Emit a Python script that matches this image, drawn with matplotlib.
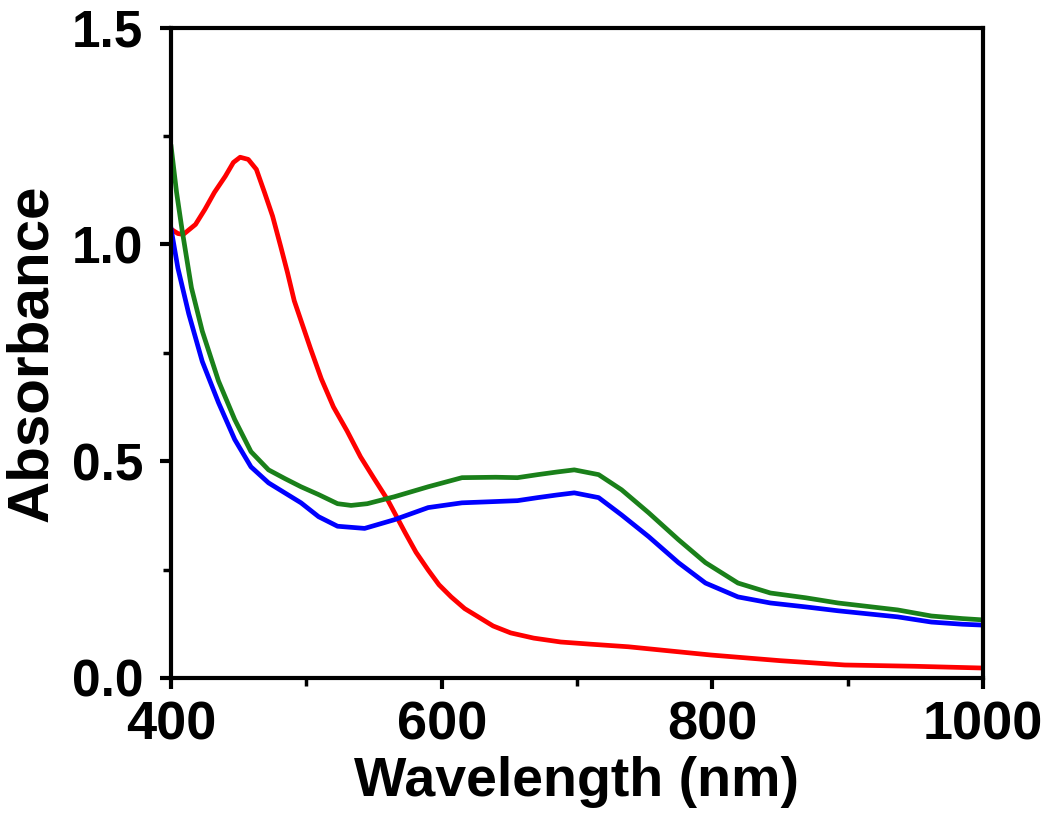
import matplotlib.pyplot as plt
from matplotlib import font_manager
import numpy as np

# absorbance spectra
red_wl = [400, 405, 409, 418, 425, 432, 440, 446, 451, 457, 463, 469, 475, 481, 486, 491,
          497, 503, 511, 520, 530, 540, 550, 560, 573, 581, 590, 598, 607, 617, 627, 638,
          651, 668, 688, 710, 738, 770, 799, 850, 898, 950, 1000]
red_abs = [1.035, 1.025, 1.023, 1.046, 1.081, 1.12, 1.157, 1.189, 1.201, 1.196, 1.173, 1.12,
           1.065, 0.995, 0.935, 0.87, 0.815, 0.76, 0.69, 0.625, 0.57, 0.51, 0.46, 0.411,
           0.335, 0.29, 0.249, 0.215, 0.187, 0.16, 0.141, 0.12, 0.104, 0.092, 0.083, 0.078,
           0.072, 0.062, 0.053, 0.040, 0.030, 0.027, 0.023]

green_wl = [400, 404, 408, 415, 423, 435, 447, 459, 472, 484, 496, 509, 523, 533, 545, 565,
            590, 615, 640, 656, 671, 685, 698, 716, 733, 753, 775, 795, 819, 843, 869, 893,
            915, 937, 962, 985, 1000]
green_abs = [1.225, 1.12, 1.035, 0.90, 0.80, 0.685, 0.596, 0.522, 0.48, 0.46, 0.441, 0.423,
             0.402, 0.398, 0.402, 0.418, 0.441, 0.462, 0.463, 0.462, 0.469, 0.475, 0.480,
             0.469, 0.434, 0.381, 0.319, 0.266, 0.219, 0.196, 0.185, 0.173, 0.165, 0.157,
             0.143, 0.137, 0.134]

blue_wl = [400, 405, 413, 423, 435, 447, 459, 472, 484, 496, 509, 523, 543, 565, 590, 615,
           640, 656, 671, 685, 698, 716, 733, 753, 775, 795, 819, 843, 869, 893, 915, 937,
           962, 985, 1000]
blue_abs = [1.035, 0.945, 0.84, 0.73, 0.635, 0.55, 0.487, 0.45, 0.427, 0.404, 0.372, 0.350,
            0.345, 0.365, 0.393, 0.404, 0.407, 0.409, 0.416, 0.422, 0.427, 0.416, 0.376,
            0.326, 0.266, 0.219, 0.187, 0.173, 0.164, 0.155, 0.148, 0.141, 0.129, 0.124,
            0.122]

x_ticks = [400, 600, 800, 1000]
y_ticks = [0.0, 0.5, 1.0, 1.5]

plt.rcParams['font.family'] = ['Liberation Sans', 'DejaVu Sans']
plt.rcParams['font.weight'] = 'bold'

# the x-axis text in the reference is condensed; use the narrow face if present
if 'Liberation Sans Narrow' in font_manager.get_font_names():
    x_family = ['Liberation Sans Narrow', 'Liberation Sans']
    x_tick_size, x_label_size = 46, 48
else:
    x_family = ['Liberation Sans', 'DejaVu Sans']
    x_tick_size, x_label_size = 39, 40

fig = plt.figure(figsize=(10.5, 8.36), dpi=100)
ax = fig.add_axes([0.163, 0.189, 0.773, 0.778])

ax.plot(red_wl, red_abs, color="#ff0000", linewidth=3.4)
ax.plot(blue_wl, blue_abs, color="#0000ff", linewidth=3.4)
ax.plot(green_wl, green_abs, color="#1a801a", linewidth=3.4)

ax.set_xlim(400, 1000)
ax.set_ylim(0, 1.5)
ax.set_xticks(x_ticks)
ax.set_xticklabels([str(t) for t in x_ticks], family=x_family, fontsize=x_tick_size,
                   fontweight="bold")
ax.set_yticks(y_ticks)
ax.set_yticklabels(["%.1f" % t for t in y_ticks], fontsize=37, fontweight="bold")
ax.set_xticks([500, 700, 900], minor=True)
ax.set_yticks([0.25, 0.75, 1.25], minor=True)

for s in ax.spines.values():
    s.set_linewidth(3)
ax.tick_params(which="major", direction="out", length=8, width=3)
ax.tick_params(which="minor", direction="out", length=6, width=2.5)
ax.tick_params(axis="x", which="major", pad=8)
ax.tick_params(axis="y", which="major", pad=12)

ax.set_xlabel("Wavelength (nm)", family=x_family, fontsize=x_label_size,
              fontweight="bold", labelpad=4)
ax.set_ylabel("Absorbance", fontsize=42, fontweight="bold")
ax.yaxis.set_label_coords(-0.138, 0.5)

fig.savefig("out.png", dpi=100)
